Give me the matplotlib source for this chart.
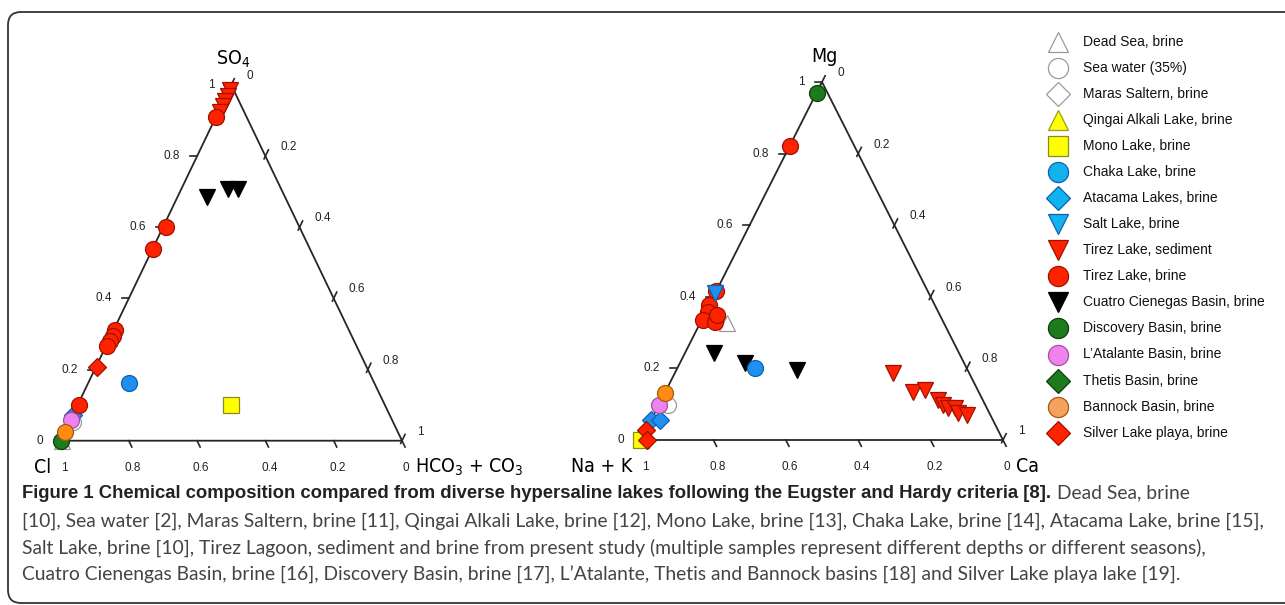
import numpy as np
import matplotlib
matplotlib.use('Agg')
import matplotlib.pyplot as plt
from matplotlib import font_manager as fm
from matplotlib.patches import FancyBboxPatch
from matplotlib.transforms import IdentityTransform


def pick(*families):
    for f in families:
        try:
            fm.findfont(f, fallback_to_default=False)
            return f
        except ValueError:
            pass
    return 'DejaVu Sans'


SANS = pick('Liberation Sans', 'DejaVu Sans')
CAPTION = pick('Lato', 'Noto Sans', 'DejaVu Sans')

# a condensed face for the corner labels, if the system has one
cond = [f for f in fm.fontManager.ttflist
        if f.stretch in ('condensed', 'semi-condensed', 575, 600, 625, 650, 700, 750)
        and f.weight in ('normal', 400, 'regular', 'book') and f.style == 'normal']
cond_path = None
for f in cond:
    if 'Narrow' in f.fname or 'Condensed' in f.fname:
        cond_path = f.fname
        break
if cond_path:
    LABEL_FONT = dict(fontproperties=fm.FontProperties(fname=cond_path, size=14))
else:
    LABEL_FONT = dict(family=SANS, fontsize=13)
plt.rcParams['mathtext.default'] = 'regular'

# ---- data: fractions ----
# anion diagram: SO4 (apex) and HCO3+CO3 (right corner), Cl = the rest
so4_dead, hco3_dead = [0.0], [0.005]
so4_sea, hco3_sea = [0.053], [0.01]
so4_atacama, hco3_atacama = [0.072], [0.0]
so4_mono, hco3_mono = [0.10], [0.449]
so4_chaka, hco3_chaka = [0.161], [0.121]
so4_tirez_sed = [0.985, 0.97, 0.955, 0.94, 0.925]
hco3_tirez_sed = [0.005, 0.005, 0.005, 0.005, 0.005]
so4_tirez_brine = [0.91, 0.60, 0.54, 0.31, 0.295, 0.28, 0.265, 0.10]
hco3_tirez_brine = [0.0, 0.01, 0.0, 0.005, 0.005, 0.005, 0.005, 0.005]
so4_cuatro, hco3_cuatro = [0.686, 0.707, 0.707], [0.087, 0.137, 0.166]
so4_discovery, hco3_discovery = [0.0], [0.0]
so4_atalante, hco3_atalante = [0.058], [0.001]
so4_bannock, hco3_bannock = [0.025], [0.0]
so4_silver, hco3_silver = [0.208], [0.004]

# cation diagram: Mg (apex) and Ca (right corner), Na+K = the rest
mg_dead, ca_dead = [0.326], [0.074]
mg_sea, ca_sea = [0.098], [0.026]
mg_mono, ca_mono = [0.0], [0.0]
mg_chaka, ca_chaka = [0.20], [0.215]
mg_atacama, ca_atacama = [0.056, 0.056], [0.0, 0.0245]
mg_salt, ca_salt = [0.41], [0.0]
mg_tirez_sed = [0.186, 0.135, 0.14, 0.112, 0.098, 0.0885, 0.0885, 0.0746, 0.0698]
ca_tirez_sed = [0.604, 0.685, 0.7145, 0.765, 0.786, 0.805, 0.823, 0.839, 0.865]
mg_tirez_brine = [0.82, 0.415, 0.377, 0.358, 0.335, 0.33, 0.349]
ca_tirez_brine = [0.002, 0.0, 0.0, 0.007, 0.005, 0.039, 0.035]
mg_cuatro, ca_cuatro = [0.242, 0.215, 0.196], [0.081, 0.18, 0.332]
mg_discovery, ca_discovery = [0.97], [0.0]
mg_atalante, ca_atalante = [0.098], [0.0]
mg_bannock, ca_bannock = [0.13], [0.0]
mg_silver, ca_silver = [0.028, 0.0], [0.0, 0.016]

labels = ['Dead Sea, brine', 'Sea water (35%)', 'Maras Saltern, brine',
          'Qingai Alkali Lake, brine', 'Mono Lake, brine', 'Chaka Lake, brine',
          'Atacama Lakes, brine', 'Salt Lake, brine', 'Tirez Lake, sediment',
          'Tirez Lake, brine', 'Cuatro Cienegas Basin, brine', 'Discovery Basin, brine',
          'L\u2019Atalante Basin, brine', 'Thetis Basin, brine', 'Bannock Basin, brine',
          'Silver Lake playa, brine']

anions = {
    'Dead Sea, brine': (so4_dead, hco3_dead),
    'Sea water (35%)': (so4_sea, hco3_sea),
    'Mono Lake, brine': (so4_mono, hco3_mono),
    'Chaka Lake, brine': (so4_chaka, hco3_chaka),
    'Atacama Lakes, brine': (so4_atacama, hco3_atacama),
    'Tirez Lake, sediment': (so4_tirez_sed, hco3_tirez_sed),
    'Tirez Lake, brine': (so4_tirez_brine, hco3_tirez_brine),
    'Cuatro Cienegas Basin, brine': (so4_cuatro, hco3_cuatro),
    'Discovery Basin, brine': (so4_discovery, hco3_discovery),
    'L\u2019Atalante Basin, brine': (so4_atalante, hco3_atalante),
    'Bannock Basin, brine': (so4_bannock, hco3_bannock),
    'Silver Lake playa, brine': (so4_silver, hco3_silver),
}
cations = {
    'Dead Sea, brine': (mg_dead, ca_dead),
    'Sea water (35%)': (mg_sea, ca_sea),
    'Mono Lake, brine': (mg_mono, ca_mono),
    'Chaka Lake, brine': (mg_chaka, ca_chaka),
    'Atacama Lakes, brine': (mg_atacama, ca_atacama),
    'Salt Lake, brine': (mg_salt, ca_salt),
    'Tirez Lake, sediment': (mg_tirez_sed, ca_tirez_sed),
    'Tirez Lake, brine': (mg_tirez_brine, ca_tirez_brine),
    'Cuatro Cienegas Basin, brine': (mg_cuatro, ca_cuatro),
    'Discovery Basin, brine': (mg_discovery, ca_discovery),
    'L\u2019Atalante Basin, brine': (mg_atalante, ca_atalante),
    'Bannock Basin, brine': (mg_bannock, ca_bannock),
    'Silver Lake playa, brine': (mg_silver, ca_silver),
}

# marker, face in plot, face in legend, edge, zorder
style = {
    'Dead Sea, brine': ('^', 'white', 'white', '#9a9a9a', 3),
    'Sea water (35%)': ('o', 'white', 'white', '#9a9a9a', 3),
    'Maras Saltern, brine': ('D', 'white', 'white', '#9a9a9a', 3),
    'Qingai Alkali Lake, brine': ('^', '#ffff00', '#ffff00', '#9a9a30', 3),
    'Mono Lake, brine': ('s', '#ffff00', '#ffff00', '#8a8a20', 3),
    'Chaka Lake, brine': ('o', '#1f8ff0', '#12b2ee', '#1060b0', 6),
    'Atacama Lakes, brine': ('D', '#1f8ff0', '#12b2ee', '#1060b0', 3),
    'Salt Lake, brine': ('v', '#1f8ff0', '#12b2ee', '#1060b0', 6),
    'Tirez Lake, sediment': ('v', '#ff2200', '#ff2200', '#a01000', 4),
    'Tirez Lake, brine': ('o', '#ff2200', '#ff2200', '#a01000', 4),
    'Cuatro Cienegas Basin, brine': ('v', 'black', 'black', 'black', 5),
    'Discovery Basin, brine': ('o', '#1d7a1d', '#1d7a1d', '#0d400d', 4),
    'L\u2019Atalante Basin, brine': ('o', '#ee82ee', '#ee82ee', '#a050a0', 5),
    'Thetis Basin, brine': ('D', '#1d7a1d', '#1d7a1d', '#0d400d', 5),
    'Bannock Basin, brine': ('o', '#ff8c10', '#f6a25c', '#a05a10', 6),
    'Silver Lake playa, brine': ('D', '#ff2200', '#ff2200', '#a01000', 7),
}
msize = {'o': 11.5, '^': 11.5, 'v': 11.5, 's': 11, 'D': 9.5}

ticks = [0, 0.2, 0.4, 0.6, 0.8, 1]

W_FIG, H_FIG = 1285, 605
fig = plt.figure(figsize=(W_FIG / 100, H_FIG / 100), dpi=100)
fig.patch.set_facecolor('white')

fig.add_artist(FancyBboxPatch((8, 2), 1400, 591, boxstyle='round,pad=0,rounding_size=13',
                              transform=IdentityTransform(), facecolor='none',
                              edgecolor='#333333', lw=1.3, zorder=0))


def tick_label(v):
    return '%g' % v


def ternary(x0, ybase, w, h, data, top_lab, left_lab, right_lab):
    ax = fig.add_axes([x0 / W_FIG, (H_FIG - ybase) / H_FIG, w / W_FIG, h / H_FIG])
    ax.set_xlim(0, 1)
    ax.set_ylim(0, 1)
    ax.axis('off')
    ax.plot([0, 1, 0.5, 0], [0, 0, 1, 0], color='#262626', lw=1.3, clip_on=False, zorder=2)
    sx, sy = 1.0 / w, 1.0 / h
    L = 7
    ur = np.array([0.5 * w, -h]); ur /= np.hypot(*ur)
    ul = np.array([0.5 * w, h]); ul /= np.hypot(*ul)
    kw = dict(color='#262626', lw=1.2, clip_on=False, zorder=2)
    tk = dict(textcoords='offset pixels', fontsize=8.5, family=SANS, color='#222222')
    for v in ticks:
        # apex component along left edge
        ax.plot([v / 2, v / 2 - L * sx], [v, v], **kw)
        ax.annotate(tick_label(v), (v / 2, v), xytext=(-17, 0), ha='right', va='center', **tk)
        # left-corner component along the base
        bx = 1 - v
        ax.plot([bx, bx + L * ur[0] * sx], [0, L * ur[1] * sy], **kw)
        ax.annotate(tick_label(v), (bx, 0), xytext=(4, -27), ha='center', va='center', **tk)
        # right-corner component along the right edge
        rx, ry = (1 + v) / 2, 1 - v
        ax.plot([rx - 3 * ul[0] * sx, rx + L * ul[0] * sx],
                [ry - 3 * ul[1] * sy, ry + L * ul[1] * sy], **kw)
        ax.annotate(tick_label(v), (rx, ry), xytext=(15, 9), ha='left', va='center', **tk)
    lk = dict(textcoords='offset pixels', color='black', **LABEL_FONT)
    ax.annotate(top_lab, (0.5, 1), xytext=(2, 26), ha='center', va='center', **lk)
    ax.annotate(left_lab, (0, 0), xytext=(-9, -27), ha='right', va='center', **lk)
    ax.annotate(right_lab, (1, 0), xytext=(13, -27), ha='left', va='center', **lk)
    for name in labels:
        if name not in data:
            continue
        top, right = data[name]
        top = np.asarray(top, float)
        right = np.asarray(right, float)
        m, face, _, edge, z = style[name]
        ax.plot(right + top / 2, top, linestyle='none', marker=m, ms=msize[m],
                mfc=face, mec=edge, mew=0.9, clip_on=False, zorder=z)
    return ax


ternary(60.5, 440.7, 341.5, 355.7, anions, 'SO$_4$', 'Cl', 'HCO$_3$ + CO$_3$')
ternary(641, 440, 362, 358, cations, 'Mg', 'Na + K', 'Ca')

# legend
lax = fig.add_axes([1058 / W_FIG, (H_FIG - 432.7) / H_FIG, 220 / W_FIG, 391 / H_FIG])
lax.set_xlim(0, 220)
lax.set_ylim(len(labels) - 1, 0)
lax.axis('off')
for i, name in enumerate(labels):
    m, _, face, edge, _ = style[name]
    lax.plot([0], [i], linestyle='none', marker=m, ms=msize[m] + 3, mfc=face, mec=edge,
             mew=0.9, clip_on=False)
    lax.text(25, i, name, fontsize=10, family=SANS, va='center', ha='left', color='#111111')

# caption
cap_bold = ('Figure 1 Chemical composition compared from diverse hypersaline lakes '
            'following the Eugster and Hardy criteria [8].')
cap_lines = [
    'Dead Sea, brine',
    '[10], Sea water [2], Maras Saltern, brine [11], Qingai Alkali Lake, brine [12], '
    'Mono Lake, brine [13], Chaka Lake, brine [14], Atacama Lake, brine [15],',
    'Salt Lake, brine [10], Tirez Lagoon, sediment and brine from present study '
    '(multiple samples represent different depths or different seasons),',
    'Cuatro Cienengas Basin, brine [16], Discovery Basin, brine [17], L\u2019Atalante, '
    'Thetis and Bannock basins [18] and Silver Lake playa lake [19].',
]
line_y = [493, 521, 548, 575]
x_cap = 22
r = fig.canvas.get_renderer()

probe = fig.text(x_cap / W_FIG, 1 - line_y[1] / H_FIG, cap_lines[1], fontsize=12,
                 family=CAPTION, va='center', color='#444444')
fs = 12 * 1240 / probe.get_window_extent(r).width
probe.remove()

tb = fig.text(x_cap / W_FIG, 1 - line_y[0] / H_FIG, cap_bold, fontsize=12,
              family=SANS, weight='bold', va='center', color='#222222')
tb.set_fontsize(12 * 1026 / tb.get_window_extent(r).width)
x_end = tb.get_window_extent(r).x1 + 6
fig.text(x_end / W_FIG, 1 - line_y[0] / H_FIG, cap_lines[0], fontsize=fs,
         family=CAPTION, va='center', color='#444444')
for txt, y in zip(cap_lines[1:], line_y[1:]):
    fig.text(x_cap / W_FIG, 1 - y / H_FIG, txt, fontsize=fs, family=CAPTION,
             va='center', color='#444444')

fig.savefig('out.png', dpi=100)
